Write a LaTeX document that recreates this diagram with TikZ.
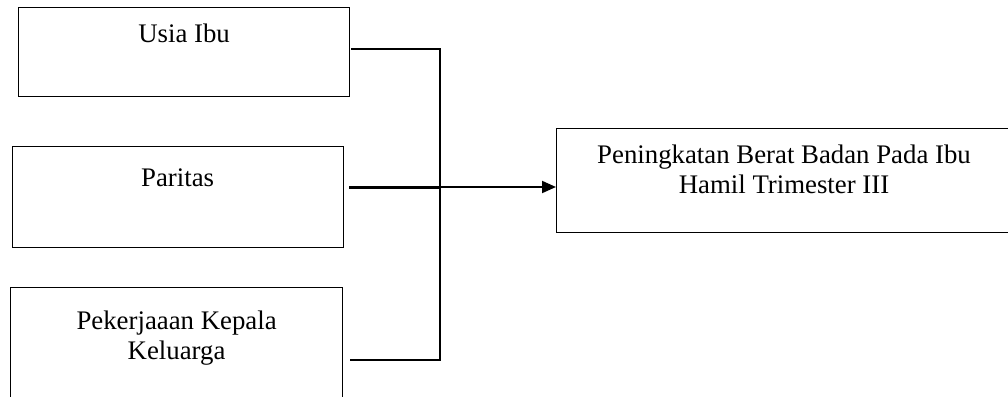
\documentclass[tikz,border=0pt]{standalone}
\usepackage{fontspec}
\setmainfont{Liberation Serif}
\usetikzlibrary{arrows.meta}
\begin{document}
\begin{tikzpicture}[x=1pt,y=-1pt,
  box/.style={draw, line width=1.2pt, inner sep=0pt, anchor=north west},
  lbl/.style={font=\fontsize{26.8}{30}\selectfont, align=center, anchor=base, inner sep=0pt},
  wire/.style={line width=2pt},
  heavy/.style={line width=3pt}]
  \useasboundingbox (0,0) rectangle (1008,396);
  \clip (0,0) rectangle (1008,396);
  % input factors (a multi-line label sits on the baseline of its last line)
  \node[box, minimum width=331pt, minimum height=89pt] (usia) at (18,7) {};
  \node[lbl] at (usia.north |- 0,43) {Usia Ibu};
  \node[box, minimum width=331pt, minimum height=101pt] (paritas) at (11.5,146) {};
  \node[lbl] at (paritas.north |- 0,186) {Paritas};
  \node[box, minimum width=332pt, minimum height=130pt] (kerja) at (10,287) {};
  \node[lbl] at (kerja.north |- 0,359) {Pekerjaaan Kepala\\Keluarga};
  % outcome
  \node[box, minimum width=460pt, minimum height=104pt] (hasil) at (556,128) {};
  \node[lbl] at (784,193) {Peningkatan Berat Badan Pada Ibu\\Hamil Trimester III};
  % connectors
  \coordinate (bus) at (440,187);
  \draw[wire] ([xshift=1pt]usia.north east |- 0,49) -- (440,49) -- (440,360) -- ([xshift=7pt]kerja.east |- 0,360);
  \draw[heavy] (349,187) -- (bus);
  \draw[wire, -{Triangle[length=14pt,width=12pt]}] (bus) -- (hasil.west |- bus);
\end{tikzpicture}
\end{document}
